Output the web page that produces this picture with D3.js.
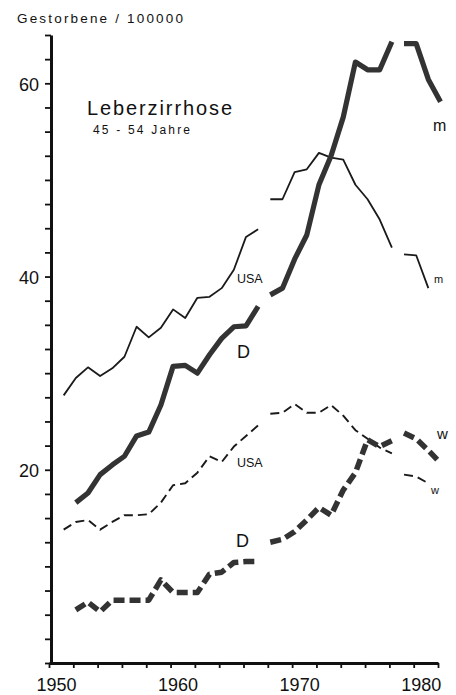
<!DOCTYPE html>
<html>
<head>
<meta charset="utf-8">
<script src="https://cdn.jsdelivr.net/npm/d3@7"></script>
<style>
  html, body { margin: 0; padding: 0; background: #fff; }
  svg { display: block; font-family: "Liberation Sans", Arial, sans-serif; }
</style>
</head>
<body>
<svg id="chart" width="456" height="695"></svg>
<script>
// years shown on the chart, and the years where a new series segment starts
const years = [1951, 1952, 1953, 1954, 1955, 1956, 1957, 1958, 1959, 1960,
  1961, 1962, 1963, 1964, 1965, 1966, 1967, 1968, 1969, 1970,
  1971, 1972, 1973, 1974, 1975, 1976, 1977, 1978, 1979, 1980, 1981, 1982];
const segmentBreaks = [1968, 1979];

// deaths per 100000, aged 45-54
const dMen = [null, 16.6, 17.6, 19.5, 20.5, 21.4, 23.5, 23.9, 26.7, 30.7,
  30.8, 30.0, 31.9, 33.6, 34.8, 34.9, 36.9, 38.1, 38.8, 41.8,
  44.3, 49.5, 52.5, 56.5, 62.2, 61.4, 61.4, 64.3, 64.1, 64.1, 60.4, 58.1];
const usaMen = [27.7, 29.5, 30.6, 29.7, 30.5, 31.7, 34.8, 33.7, 34.7, 36.6,
  35.7, 37.8, 37.9, 38.8, 40.7, 44.1, 44.9, 48.0, 48.0, 50.8,
  51.1, 52.8, 52.3, 52.1, 49.5, 48.0, 45.9, 43.0, 42.3, 42.2, 38.8, null];
const usaWomen = [13.8, 14.6, 14.8, 13.8, 14.6, 15.3, 15.3, 15.4, 16.6, 18.4,
  18.6, 19.7, 21.4, 20.8, 22.4, 23.5, 24.6, 25.8, 25.9, 26.8,
  25.9, 25.9, 26.7, 25.6, 24.1, 23.2, 22.3, 21.7, 19.5, 19.3, 18.6, null];
const dWomen = [null, 5.5, 6.3, 5.3, 6.5, 6.5, 6.5, 6.5, 8.6, 7.3,
  7.3, 7.3, 9.2, 9.4, 10.4, 10.5, 10.5, 12.5, 12.8, 13.6,
  14.8, 16.1, 15.3, 17.9, 19.7, 23.1, 22.4, 23.0, 23.8, 23.2, 22.0, 20.7];

const xTickLabels = [1950, 1960, 1970, 1980];
const yTickLabels = [20, 40, 60];

const svg = d3.select("#chart");

const x = d3.scaleLinear().domain([1950, 1982]).range([49, 438]);
const y = d3.scaleLinear().domain([0, 65]).range([663, 35]);

// split a series into its separately drawn pieces
function segments(values) {
  const pieces = [];
  let current = [];
  years.forEach((yr, i) => {
    if (segmentBreaks.includes(yr) && current.length) {
      pieces.push(current);
      current = [];
    }
    if (values[i] != null) current.push({ year: yr, value: values[i] });
  });
  if (current.length) pieces.push(current);
  return pieces;
}

const line = d3.line()
  .x((d) => x(d.year))
  .y((d) => y(d.value));

const series = [
  { values: usaMen, color: "#1a1a1a", width: 1.8, dash: null },
  { values: usaWomen, color: "#1a1a1a", width: 1.9, dash: "9,5" },
  { values: dWomen, color: "#333", width: 5.5, dash: "11,5" },
  { values: dMen, color: "#333", width: 5.2, dash: null },
];

// the printed curves sit a little right of the year ticks
const plot = svg.append("g").attr("transform", "translate(2.5,0)");

series.forEach((s) => {
  segments(s.values).forEach((piece) => {
    plot.append("path")
      .datum(piece)
      .attr("fill", "none")
      .attr("stroke", s.color)
      .attr("stroke-width", s.width)
      .attr("stroke-linejoin", "round")
      .attr("stroke-dasharray", s.dash)
      .attr("d", line);
  });
});

// axes
const yAxis = d3.axisLeft(y)
  .tickValues(d3.range(0, 65.1, 2.5))
  .tickSize(6)
  .tickSizeOuter(0)
  .tickFormat((d) => (yTickLabels.includes(d) ? d : ""));

svg.append("g")
  .attr("transform", `translate(${x(1950) + 2},0)`)
  .call(yAxis)
  .call((g) => g.select(".domain").attr("stroke-width", 3).attr("stroke", "#111"))
  .call((g) => g.selectAll(".tick line").attr("stroke-width", 1.8).attr("stroke", "#111"))
  .call((g) => g.selectAll(".tick text")
    .attr("font-size", 18).attr("fill", "#111").attr("x", -12).attr("dy", "0.4em")
    .style("font-family", "Liberation Sans, Arial, sans-serif"));

const xAxis = d3.axisBottom(x)
  .tickValues(d3.range(1950, 1982.1, 2))
  .tickSize(5)
  .tickSizeOuter(0)
  .tickFormat((d) => (xTickLabels.includes(d) ? d : ""));

svg.append("g")
  .attr("transform", `translate(0,${y(0)})`)
  .call(xAxis)
  .call((g) => g.select(".domain").attr("stroke-width", 3).attr("stroke", "#111"))
  .call((g) => g.selectAll(".tick line").attr("stroke-width", 1.8).attr("stroke", "#111"))
  .call((g) => g.selectAll(".tick text")
    .attr("font-size", 18).attr("fill", "#111").attr("dx", 7).attr("y", 15)
    .style("font-family", "Liberation Sans, Arial, sans-serif"));

// titles
svg.append("text")
  .attr("x", 17).attr("y", 23)
  .attr("font-size", 13.5)
  .attr("textLength", 166).attr("lengthAdjust", "spacing")
  .attr("fill", "#111")
  .text("Gestorbene / 100000");

svg.append("text")
  .attr("x", 87).attr("y", 115)
  .attr("font-size", 20)
  .attr("textLength", 145).attr("lengthAdjust", "spacing")
  .attr("fill", "#111")
  .text("Leberzirrhose");

svg.append("text")
  .attr("x", 93).attr("y", 134)
  .attr("font-size", 12)
  .attr("textLength", 97).attr("lengthAdjust", "spacing")
  .attr("fill", "#111")
  .text("45 - 54 Jahre");

// series labels
const labels = [
  { text: "USA", x: 237, y: 283, size: 12.5 },
  { text: "D", x: 237, y: 358, size: 18 },
  { text: "USA", x: 237, y: 467, size: 12.5 },
  { text: "D", x: 236, y: 547, size: 18 },
  { text: "m", x: 433, y: 131, size: 16 },
  { text: "m", x: 434, y: 283, size: 11 },
  { text: "w", x: 437, y: 439, size: 15 },
  { text: "w", x: 431, y: 494, size: 11 },
];

labels.forEach((l) => {
  svg.append("text")
    .attr("x", l.x).attr("y", l.y)
    .attr("font-size", l.size)
    .attr("fill", "#111")
    .text(l.text);
});
</script>
</body>
</html>
